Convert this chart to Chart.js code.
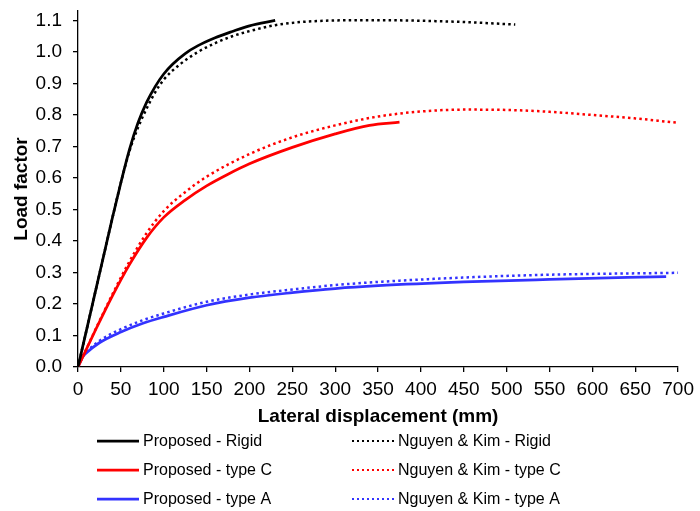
<!DOCTYPE html>
<html lang="en">
<head>
    <meta charset="UTF-8">
    <title>Load factor vs lateral displacement</title>
    <style>
        html, body { margin: 0; padding: 0; background: #fff; }
        .chart-box { width: 700px; height: 511px; position: relative; }
    </style>
</head>
<body>
    <div class="chart-box">
        <canvas id="mychart"></canvas>
    </div>
    <script src="https://cdn.jsdelivr.net/npm/chart.js@4.4.1/dist/chart.umd.min.js"></script>
    <script>
        // 축 눈금
        const xTicks = [0, 50, 100, 150, 200, 250, 300, 350, 400, 450, 500, 550, 600, 650, 700]
        const yTicks = [0, 0.1, 0.2, 0.3, 0.4, 0.5, 0.6, 0.7, 0.8, 0.9, 1.0, 1.1]

        // Proposed - Rigid
        const xPropRigid = [0, 10, 20, 30, 40, 50, 60, 70, 80, 90, 100, 110, 125, 140, 160, 180, 200, 230]
        const yPropRigid = [0, 0.118, 0.236, 0.354, 0.472, 0.585, 0.69, 0.775, 0.84, 0.89, 0.93, 0.96, 0.995, 1.02, 1.045, 1.065, 1.083, 1.10]

        // Proposed - type C
        const xPropC = [0, 20, 40, 60, 80, 100, 125, 150, 175, 200, 250, 300, 340, 375]
        const yPropC = [0, 0.115, 0.225, 0.325, 0.41, 0.475, 0.53, 0.575, 0.612, 0.645, 0.697, 0.74, 0.767, 0.777]

        // Proposed - type A
        const xPropA = [0, 5, 10, 25, 50, 75, 100, 150, 200, 250, 300, 350, 450, 550, 686]
        const yPropA = [0, 0.03, 0.045, 0.077, 0.111, 0.138, 0.159, 0.196, 0.22, 0.236, 0.249, 0.258, 0.27, 0.278, 0.287]

        // Nguyen & Kim - Rigid
        const xNkRigid = [0, 10, 20, 30, 40, 50, 60, 70, 80, 90, 100, 120, 140, 160, 180, 200, 230, 260, 300, 350, 400, 450, 510]
        const yNkRigid = [0, 0.118, 0.236, 0.354, 0.472, 0.585, 0.685, 0.76, 0.82, 0.872, 0.912, 0.963, 1.0, 1.028, 1.05, 1.066, 1.085, 1.095, 1.10, 1.101, 1.099, 1.095, 1.087]

        // Nguyen & Kim - type C
        const xNkC = [0, 20, 40, 60, 80, 100, 125, 150, 200, 250, 300, 350, 400, 450, 500, 550, 600, 650, 700]
        const yNkC = [0, 0.117, 0.23, 0.335, 0.425, 0.495, 0.555, 0.604, 0.676, 0.729, 0.767, 0.795, 0.811, 0.817, 0.816, 0.81, 0.8, 0.789, 0.775]

        // Nguyen & Kim - type A
        const xNkA = [0, 5, 10, 25, 50, 75, 100, 150, 200, 250, 300, 350, 450, 550, 700]
        const yNkA = [0, 0.032, 0.048, 0.083, 0.12, 0.148, 0.17, 0.207, 0.23, 0.246, 0.26, 0.27, 0.284, 0.293, 0.299]

        const seriesNames = [
            'Proposed - Rigid', 'Proposed - type C', 'Proposed - type A',
            'Nguyen & Kim - Rigid', 'Nguyen & Kim - type C', 'Nguyen & Kim - type A'
        ]
    </script>
    <script>
        const FONT = "'Liberation Sans', Arial, sans-serif"
        const BLUE = '#3333ff'

        function toPoints(xs, ys) {
            return xs.map((x, i) => ({ x: x, y: ys[i] }))
        }

        function makeSet(label, xs, ys, color, dotted) {
            return {
                label: label,
                data: toPoints(xs, ys),
                borderColor: color,
                backgroundColor: color,
                borderWidth: dotted ? 2.5 : 2.75,
                borderDash: dotted ? [2.5, 3.2] : [],
                pointRadius: 0,
                showLine: true,
                fill: false,
                cubicInterpolationMode: 'monotone',
                dotted: dotted,
            }
        }

        // 범례 (두 열, 세 줄)
        const legendPlugin = {
            id: 'twoColLegend',
            afterDraw(chart) {
                const ctx = chart.ctx
                const cols = [97, 352]
                const rows = [441, 470, 499]
                chart.data.datasets.forEach((ds, i) => {
                    const x0 = cols[Math.floor(i / 3)]
                    const y0 = rows[i % 3]
                    ctx.save()
                    ctx.strokeStyle = ds.borderColor
                    ctx.lineWidth = ds.dotted ? 2 : 2.75
                    ctx.setLineDash(ds.dotted ? [2, 3] : [])
                    ctx.beginPath()
                    ctx.moveTo(x0, y0)
                    ctx.lineTo(x0 + 42, y0)
                    ctx.stroke()
                    ctx.setLineDash([])
                    ctx.fillStyle = '#000'
                    ctx.font = '16px ' + FONT
                    ctx.textBaseline = 'middle'
                    ctx.fillText(ds.label, x0 + 46, y0 + 1)
                    ctx.restore()
                })
            }
        }

        const mychart = document.querySelector('#mychart')

        new Chart(mychart, {
            type: 'scatter',
            data: {
                datasets: [
                    makeSet(seriesNames[0], xPropRigid, yPropRigid, '#000000', false),
                    makeSet(seriesNames[1], xPropC, yPropC, '#ff0000', false),
                    makeSet(seriesNames[2], xPropA, yPropA, BLUE, false),
                    makeSet(seriesNames[3], xNkRigid, yNkRigid, '#000000', true),
                    makeSet(seriesNames[4], xNkC, yNkC, '#ff0000', true),
                    makeSet(seriesNames[5], xNkA, yNkA, BLUE, true),
                ],
            },
            options: {
                responsive: true,
                maintainAspectRatio: false,
                animation: false,
                layout: {
                    padding: { top: 11, right: 0, bottom: 83, left: 4 },
                },
                plugins: {
                    legend: { display: false },
                    tooltip: { enabled: false },
                },
                scales: {
                    x: {
                        type: 'linear',
                        min: xTicks[0],
                        max: xTicks[xTicks.length - 1],
                        afterBuildTicks: (axis) => { axis.ticks = xTicks.map(v => ({ value: v })) },
                        afterFit: (axis) => { axis.height = 61 },
                        grid: { drawOnChartArea: false, drawTicks: true, tickLength: 5, color: '#000', lineWidth: 1.3 },
                        border: { display: true, color: '#000', width: 1.3 },
                        ticks: {
                            color: '#000',
                            padding: 6,
                            maxRotation: 0,
                            font: { family: FONT, size: 19 },
                        },
                        title: {
                            display: true,
                            text: 'Lateral displacement (mm)',
                            color: '#000',
                            padding: { top: 5, bottom: 0 },
                            font: { family: FONT, size: 19, weight: 'bold' },
                        },
                    },
                    y: {
                        type: 'linear',
                        min: 0,
                        max: 1.13,
                        afterBuildTicks: (axis) => { axis.ticks = yTicks.map(v => ({ value: v })) },
                        afterFit: (axis) => {
                            axis.width = 74
                            axis.paddingTop = 0
                            axis.paddingBottom = 0
                        },
                        grid: { drawOnChartArea: false, drawTicks: true, tickLength: 5, color: '#000', lineWidth: 1.3 },
                        border: { display: true, color: '#000', width: 1.3 },
                        ticks: {
                            color: '#000',
                            padding: 11,
                            font: { family: FONT, size: 19 },
                            callback: (v) => v.toFixed(1),
                        },
                        title: {
                            display: true,
                            text: 'Load factor',
                            color: '#000',
                            padding: { top: 6, bottom: 0 },
                            font: { family: FONT, size: 19, weight: 'bold' },
                        },
                    },
                },
            },
            plugins: [legendPlugin],
        })
    </script>
</body>
</html>
